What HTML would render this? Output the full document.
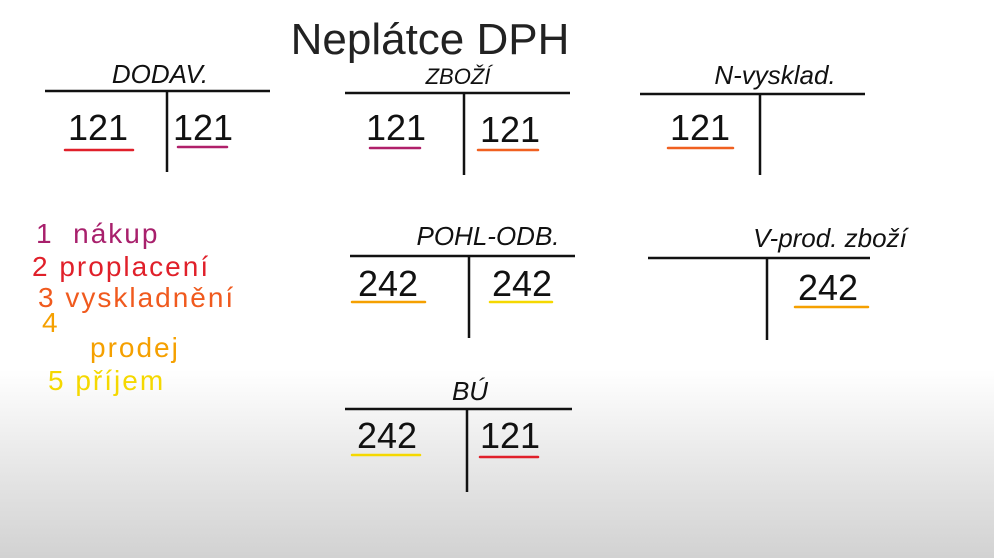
<!DOCTYPE html>
<html><head><meta charset="utf-8"><style>
html,body{margin:0;padding:0;width:994px;height:558px;overflow:hidden}
body{background:linear-gradient(to bottom,#fff 0,#fff 370px,#e6e6e6 470px,#d2d2d2 558px)}
svg{display:block}
text{font-family:"Liberation Sans",sans-serif}
</style></head><body>
<svg width="994" height="558" xmlns="http://www.w3.org/2000/svg">
<text x="430" y="54" font-size="44" fill="#222" text-anchor="middle">Neplátce DPH</text>
<g stroke="#111" stroke-width="2.5" fill="none">
<path d="M45 91H270M167 91V172"/>
<path d="M345 93H570M464 93V175"/>
<path d="M640 94H865M760 94V175"/>
<path d="M350 256H575M469 256V338"/>
<path d="M648 258H870M767 258V340"/>
<path d="M345 409H572M467 409V492"/>
</g>
<g font-size="26" fill="#111" text-anchor="middle" font-style="italic">
<text x="160" y="83">DODAV.</text>
<text x="458" y="84" font-size="22">ZBOŽÍ</text>
<text x="775" y="84">N-vysklad.</text>
<text x="488" y="245">POHL-ODB.</text>
<text x="830" y="247">V-prod. zboží</text>
<text x="470" y="400">BÚ</text>
</g>
<g font-size="36" fill="#111" text-anchor="middle">
<text x="98" y="140">121</text>
<text x="203" y="140">121</text>
<text x="396" y="140">121</text>
<text x="510" y="142">121</text>
<text x="700" y="140">121</text>
<text x="388" y="296">242</text>
<text x="522" y="296">242</text>
<text x="828" y="300">242</text>
<text x="387" y="448">242</text>
<text x="510" y="448">121</text>
</g>
<g stroke-width="2.5" fill="none" stroke-linecap="round">
<path d="M65 150H133" stroke="#e0202a"/>
<path d="M178 147H227" stroke="#b0206a"/>
<path d="M370 148H420" stroke="#b0206a"/>
<path d="M478 150H538" stroke="#f06020"/>
<path d="M668 148H733" stroke="#f06020"/>
<path d="M352 302H425" stroke="#f5a000"/>
<path d="M490 302H552" stroke="#f5d800"/>
<path d="M795 307H868" stroke="#f5a000"/>
<path d="M352 455H420" stroke="#f5d800"/>
<path d="M480 457H538" stroke="#e0202a"/>
</g>
<g font-size="28" letter-spacing="2">
<text x="36" y="243" fill="#a8206c">1 &#160;nákup</text>
<text x="32" y="276" fill="#e0202a">2 proplacení</text>
<text x="38" y="307" fill="#f05a1e">3 vyskladnění</text>
<text x="42" y="332" fill="#f5a000">4</text>
<text x="90" y="357" fill="#f5a000">prodej</text>
<text x="48" y="390" fill="#f5d800">5 příjem</text>
</g>
</svg>
</body></html>
